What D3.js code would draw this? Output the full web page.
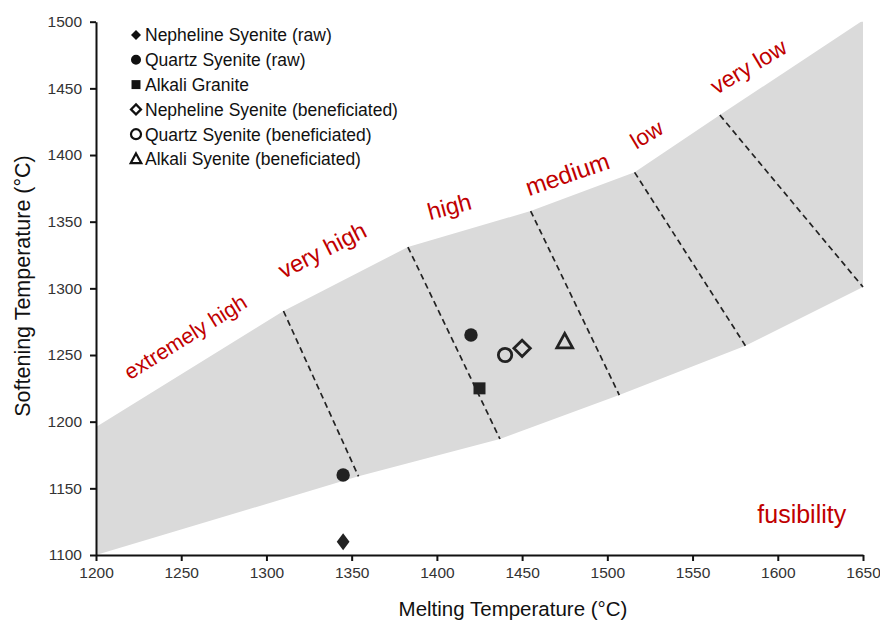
<!DOCTYPE html>
<html>
<head>
<meta charset="utf-8">
<script src="https://cdnjs.cloudflare.com/ajax/libs/d3/7.8.5/d3.min.js"></script>
<style>
  body { margin: 0; background: #fff; }
  svg text { font-family: "Liberation Sans", Arial, sans-serif; }
</style>
</head>
<body>
<svg id="chart" width="880" height="620"></svg>
<script>
// Fusibility band, upper edge (melting, softening)
var upperEdge = [
  [1200, 1196], [1310, 1283], [1383, 1331], [1455, 1358],
  [1516, 1387], [1566, 1430], [1650, 1501]
];
// Fusibility band, lower edge
var lowerEdge = [
  [1200, 1100], [1354, 1159], [1437, 1187], [1507, 1220],
  [1581, 1257], [1650, 1301]
];
// Dashed class dividers: [from, to]
var dividers = [
  [[1310, 1283], [1354, 1159]],
  [[1383, 1331], [1437, 1187]],
  [[1455, 1358], [1507, 1220]],
  [[1516, 1387], [1581, 1257]],
  [[1566, 1430], [1650, 1301]]
];
// Class labels: text, anchor (melting, softening), angle
var classNames = ["extremely high", "very high", "high", "medium", "low", "very low"];
var classAnchors = [[1220, 1231], [1310, 1307], [1396, 1351], [1454, 1369], [1517, 1404], [1564, 1445]];
var classAngles = [-32, -27, -15, -19, -31, -31];

// Samples
var seriesNames = [
  "Nepheline Syenite (raw)",
  "Quartz Syenite (raw)",
  "Alkali Granite",
  "Nepheline Syenite (beneficiated)",
  "Quartz Syenite (beneficiated)",
  "Alkali Syenite (beneficiated)"
];
var seriesSymbols = ["diamond", "circle", "square", "diamond", "circle", "triangle"];
var seriesFilled = [true, true, true, false, false, false];
var seriesPoints = [
  [[1345, 1110]],
  [[1345, 1160], [1420, 1265]],
  [[1425, 1225]],
  [[1450, 1255]],
  [[1440, 1250]],
  [[1475, 1260]]
];

var xTicks = [1200, 1250, 1300, 1350, 1400, 1450, 1500, 1550, 1600, 1650];
var yTicks = [1100, 1150, 1200, 1250, 1300, 1350, 1400, 1450, 1500];

(function() {
  var svg = d3.select("#chart");
  var INK = "#222";
  var RED = "#c00000";
  var LABEL_SIZES = [21.5, 23.5, 23.5, 24.5, 22.5, 23];

  var x = d3.scaleLinear().domain([1200, 1650]).range([96, 863]);
  var y = d3.scaleLinear().domain([1100, 1500]).range([555, 21.7]);

  svg.append("defs").append("clipPath").attr("id", "plot-clip")
    .append("rect")
    .attr("x", x(1200)).attr("y", y(1500))
    .attr("width", x(1650) - x(1200)).attr("height", y(1100) - y(1500));

  // Draw band
  var band = upperEdge.concat(lowerEdge.slice().reverse());
  svg.append("path")
    .attr("clip-path", "url(#plot-clip)")
    .attr("d", d3.line().x(function(d) { return x(d[0]); }).y(function(d) { return y(d[1]); })(band) + "Z")
    .attr("fill", "#dadada");

  // Draw dividers
  svg.append("g").selectAll("line").data(dividers).enter()
    .append("line")
    .attr("x1", function(d) { return x(d[0][0]); })
    .attr("y1", function(d) { return y(d[0][1]); })
    .attr("x2", function(d) { return x(d[1][0]); })
    .attr("y2", function(d) { return y(d[1][1]); })
    .attr("stroke", INK)
    .attr("stroke-width", 1.7)
    .attr("stroke-dasharray", "6,4");

  // Draw class labels
  svg.append("g").selectAll("text").data(classNames).enter()
    .append("text")
    .attr("transform", function(d, i) {
      return "translate(" + x(classAnchors[i][0]) + "," + y(classAnchors[i][1]) + ") rotate(" + classAngles[i] + ")";
    })
    .attr("fill", RED)
    .attr("font-size", function(d, i) { return LABEL_SIZES[i]; })
    .text(function(d) { return d; });

  svg.append("text")
    .attr("x", x(1588)).attr("y", y(1124))
    .attr("fill", RED)
    .attr("font-size", 25)
    .text("fusibility");

  // Axes
  var xAxis = svg.append("g").attr("transform", "translate(0," + y(1100) + ")");
  xAxis.call(d3.axisBottom(x).tickValues(d3.range(1200, 1651, 10)).tickFormat("").tickSize(5).tickSizeOuter(0));
  xAxis.call(d3.axisBottom(x).tickValues(xTicks).tickFormat(d3.format("d")).tickSize(6).tickSizeOuter(0).tickPadding(6));
  xAxis.selectAll("text").attr("font-size", 15.5).attr("fill", "#333").attr("font-family", "Liberation Sans, Arial, sans-serif");

  var yAxis = svg.append("g").attr("transform", "translate(" + x(1200) + ",0)");
  yAxis.call(d3.axisLeft(y).tickValues(d3.range(1100, 1501, 10)).tickFormat("").tickSize(5).tickSizeOuter(0));
  yAxis.call(d3.axisLeft(y).tickValues(yTicks).tickFormat(d3.format("d")).tickSize(6).tickSizeOuter(0).tickPadding(8));
  yAxis.selectAll("text").attr("font-size", 15.5).attr("fill", "#333").attr("font-family", "Liberation Sans, Arial, sans-serif");

  svg.selectAll(".domain, .tick line").attr("stroke", "#111").attr("stroke-width", 2);

  // Axis titles
  svg.append("text")
    .attr("x", 513).attr("y", 616)
    .attr("text-anchor", "middle")
    .attr("font-size", 20.5).attr("fill", "#111")
    .text("Melting Temperature (°C)");
  svg.append("text")
    .attr("transform", "translate(30,286) rotate(-90)")
    .attr("text-anchor", "middle")
    .attr("font-size", 21.5).attr("fill", "#111")
    .text("Softening Temperature (°C)");

  // Marker shapes
  var shape = function(name, s) {
    if (name === "diamond") return "M0," + (-s) + "L" + (s * 0.75) + ",0L0," + s + "L" + (-s * 0.75) + ",0Z";
    if (name === "square") return "M" + (-s * 0.8) + "," + (-s * 0.8) + "h" + (s * 1.6) + "v" + (s * 1.6) + "h" + (-s * 1.6) + "Z";
    if (name === "triangle") return "M0," + (-s) + "L" + (s * 0.95) + "," + (s * 0.75) + "L" + (-s * 0.95) + "," + (s * 0.75) + "Z";
    return d3.symbol().type(d3.symbolCircle).size(Math.PI * s * s * 0.8)();
  };
  var openDiamond = function(s) {
    return "M0," + (-s) + "L" + s + ",0L0," + s + "L" + (-s) + ",0Z";
  };
  var markSize = function(i) {
    if (seriesSymbols[i] === "diamond") return seriesFilled[i] ? 8.5 : 8.2;
    if (seriesSymbols[i] === "triangle") return 8.3;
    return 7.5;
  };

  // Draw points
  seriesPoints.forEach(function(pts, i) {
    svg.append("g").selectAll("path").data(pts).enter()
      .append("path")
      .attr("transform", function(d) { return "translate(" + x(d[0]) + "," + y(d[1]) + ")"; })
      .attr("d", (!seriesFilled[i] && seriesSymbols[i] === "diamond") ? openDiamond(markSize(i)) : shape(seriesSymbols[i], markSize(i)))
      .attr("fill", seriesFilled[i] ? INK : "none")
      .attr("stroke", INK)
      .attr("stroke-width", seriesFilled[i] ? 0 : 2.8);
  });

  // Draw legend
  var legend = svg.append("g").selectAll("g").data(seriesNames).enter()
    .append("g")
    .attr("transform", function(d, i) { return "translate(136," + (35 + i * 24.8) + ")"; });
  legend.append("path")
    .attr("d", function(d, i) {
      if (!seriesFilled[i] && seriesSymbols[i] === "diamond") return openDiamond(5);
      if (seriesSymbols[i] === "diamond") return openDiamond(5);
      return shape(seriesSymbols[i], 5.6);
    })
    .attr("fill", function(d, i) { return seriesFilled[i] ? "#111" : "none"; })
    .attr("stroke", "#111")
    .attr("stroke-width", function(d, i) { return seriesFilled[i] ? 0 : 2.2; });
  legend.append("text")
    .attr("x", 9).attr("dy", "0.36em")
    .attr("font-size", 17.5).attr("fill", "#111")
    .text(function(d) { return d; });
}());
</script>
</body>
</html>
